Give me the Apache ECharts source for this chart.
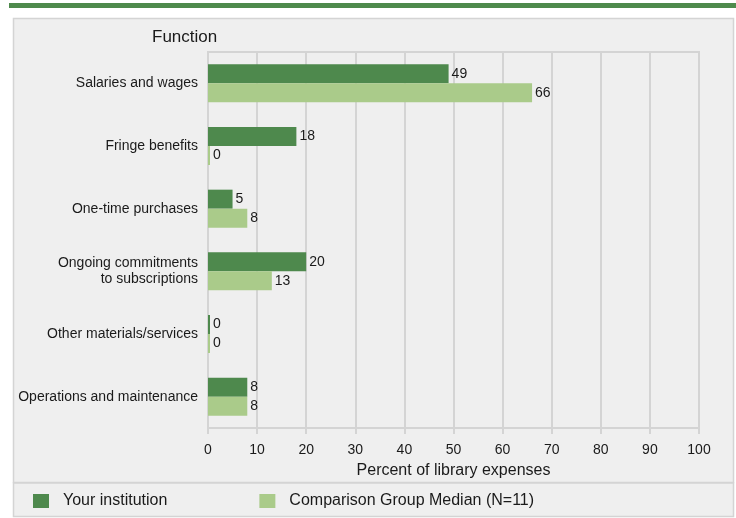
<!DOCTYPE html>
<html><head><meta charset="utf-8">
<script src="https://cdn.jsdelivr.net/npm/echarts@6/dist/echarts.min.js"></script>
<style>html,body{margin:0;padding:0;background:#fff;}#c{width:736px;height:518px;}</style>
</head><body><div id="c"></div>
<script>
const categories = ["Salaries and wages","Fringe benefits","One-time purchases","Ongoing commitments\nto subscriptions","Other materials/services","Operations and maintenance"];
const yourInstitution = [49,18,5,20,0,8];
const comparisonMedian = [66,0,8,13,0,8];
const seriesNames = ["Your institution","Comparison Group Median (N=11)"];
const xTicks = [0,10,20,30,40,50,60,70,80,90,100];

const DARK = '#4e894d', LIGHT = '#aacb8a', GRID = '#d4d4d4', BG = '#efefef';
const FONT = 'Liberation Sans, Arial, sans-serif';
const chart = echarts.init(document.getElementById('c'));
const lbl = {show:true, position:'right', distance:3, color:'#1a1a1a', fontSize:14, fontFamily:FONT};
chart.setOption({
  animation:false,
  textStyle:{fontFamily:FONT},
  graphic:[
    {type:'rect', shape:{x:9,y:3,width:727,height:5}, style:{fill:'#4e8a4c'}, z:-10},
    {type:'rect', shape:{x:13.5,y:18.5,width:720,height:464}, style:{fill:BG, stroke:GRID, lineWidth:1.5}, z:-10},
    {type:'rect', shape:{x:13.5,y:483,width:720,height:33.5}, style:{fill:BG, stroke:GRID, lineWidth:1.5}, z:-10},
    {type:'text', left:152, top:29, style:{text:'Function', fill:'#1a1a1a', font:'17px '+FONT}}
  ],
  legend:{
    data:seriesNames, left:33, top:493, padding:0, itemWidth:16, itemHeight:14, itemGap:92,
    icon:'rect', textStyle:{fontSize:16, color:'#1a1a1a', fontFamily:FONT, padding:[0,0,0,9]}
  },
  grid:{left:208, right:37, top:52, bottom:90, show:true, borderColor:GRID, borderWidth:2, backgroundColor:BG},
  xAxis:{
    type:'value', min:0, max:100, interval:10,
    name:'Percent of library expenses', nameLocation:'middle', nameGap:35,
    nameTextStyle:{fontSize:16, color:'#1a1a1a', fontFamily:FONT},
    axisLine:{show:true, lineStyle:{color:GRID, width:2}},
    axisTick:{show:true, length:6, lineStyle:{color:GRID, width:2}},
    axisLabel:{color:'#1a1a1a', fontSize:14, margin:15, fontFamily:FONT},
    splitLine:{show:true, lineStyle:{color:GRID, width:2}}
  },
  yAxis:{
    type:'category', data:categories, inverse:true,
    axisLine:{show:true, lineStyle:{color:GRID, width:2}},
    axisTick:{show:false},
    axisLabel:{color:'#1a1a1a', fontSize:14, margin:10, align:'right', lineHeight:16, fontFamily:FONT}
  },
  series:[
    {name:seriesNames[0], type:'bar', data:yourInstitution, barWidth:19, barGap:'0%', barMinHeight:2, itemStyle:{color:DARK}, label:lbl},
    {name:seriesNames[1], type:'bar', data:comparisonMedian, barWidth:19, barMinHeight:2, itemStyle:{color:LIGHT}, label:lbl}
  ]
});
</script></body></html>
